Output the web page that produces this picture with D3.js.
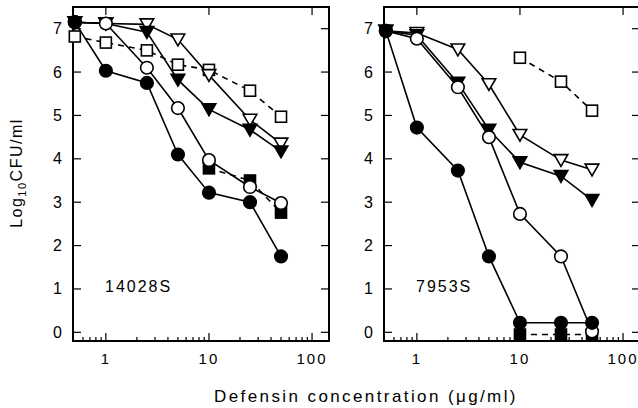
<!DOCTYPE html>
<html>
<head>
<meta charset="utf-8">
<script src="https://cdn.jsdelivr.net/npm/d3@7"></script>
<style>
body{margin:0;background:#fff}
svg{font-family:"Liberation Sans",Arial,sans-serif}
</style>
</head>
<body>
<svg id="chart" width="638" height="408"></svg>
<script>
// concentrations (ug/ml)
let conc=[0.5,1,2.5,5,10,25,50]
let concHigh=[10,25,50]
let yTicks=[0,1,2,3,4,5,6,7]
let xTicks=[1,10,100]
let xMinor=[0.6,0.7,0.8,0.9,2,3,4,5,6,7,8,9,20,30,40,50,60,70,80,90]

// strain 14028S
let a_fc=[7.15,6.03,5.75,4.1,3.22,3.0,1.75]
let a_oc=[7.15,7.12,6.1,5.17,3.97,3.35,2.98]
let a_ot=[7.15,7.12,7.1,6.75,5.93,4.9,4.35]
let a_ft=[7.15,7.12,6.92,5.82,5.14,4.67,4.17]
let a_os=[6.82,6.68,6.5,6.17,6.05,5.57,4.97]
let a_fs=[3.78,3.5,2.76]

// strain 7953S
let b_fc=[6.95,4.72,3.73,1.75,0.22,0.22,0.22]
let b_oc=[6.95,6.77,5.65,4.5,2.73,1.75,0.02]
let b_ft=[6.95,6.85,5.75,4.67,3.92,3.6,3.05]
let b_ot=[6.95,6.9,6.52,5.72,4.55,3.97,3.75]
let b_os=[6.33,5.78,5.11]
let b_fs=[-0.05,-0.05,-0.05]

let svg=d3.select("#chart")
let plotTop=7,plotBottom=341,pw=256

let y=d3.scaleLinear().domain([-0.2,7.5]).range([plotBottom,plotTop])

function marker(g,type,cx,cy){
let filled=type[0]=="f"
let shape=type[1]
let el
if(shape=="c"){
el=g.append("circle").attr("cx",cx).attr("cy",cy).attr("r",6.3)
}else if(shape=="s"){
el=g.append("rect").attr("x",cx-5.5).attr("y",cy-5.5).attr("width",11).attr("height",11)
}else{
el=g.append("path").attr("d",`M${cx-6.8},${cy-5.5}L${cx+6.8},${cy-5.5}L${cx},${cy+6.3}Z`)
}
el.attr("fill",filled?"#000":"#fff").attr("stroke","#000").attr("stroke-width",1.6)
}

function drawPanel(x0,label,series){
let x=d3.scaleLog().domain([0.48,146]).range([x0,x0+pw])
let g=svg.append("g")

// minor & major ticks
xMinor.forEach(t=>{
g.append("line").attr("x1",x(t)).attr("x2",x(t)).attr("y1",plotBottom).attr("y2",plotBottom-4)
.attr("stroke","#000").attr("stroke-width",1.2)
})
xTicks.forEach(t=>{
g.append("line").attr("x1",x(t)).attr("x2",x(t)).attr("y1",plotBottom).attr("y2",plotBottom-8)
.attr("stroke","#000").attr("stroke-width",1.2)
g.append("line").attr("x1",x(t)).attr("x2",x(t)).attr("y1",plotTop).attr("y2",plotTop+8)
.attr("stroke","#000").attr("stroke-width",1.2)
g.append("text").attr("x",x(t)).attr("y",364).attr("text-anchor","middle")
.attr("font-size",15).attr("letter-spacing",2).text(t)
})
yTicks.forEach(t=>{
g.append("line").attr("x1",x0).attr("x2",x0+8).attr("y1",y(t)).attr("y2",y(t))
.attr("stroke","#000").attr("stroke-width",1.2)
g.append("line").attr("x1",x0+pw).attr("x2",x0+pw-8).attr("y1",y(t)).attr("y2",y(t))
.attr("stroke","#000").attr("stroke-width",1.2)
g.append("text").attr("x",x0-11).attr("y",y(t)+5.5).attr("text-anchor","end")
.attr("font-size",16).text(t)
})
g.append("rect").attr("x",x0).attr("y",plotTop).attr("width",pw).attr("height",plotBottom-plotTop)
.attr("fill","none").attr("stroke","#000").attr("stroke-width",2)

g.append("text").attr("x",x0+32).attr("y",292).attr("font-size",16)
.attr("letter-spacing",2).text(label)

let line=d3.line().x(d=>x(d[0])).y(d=>y(d[1]))
series.forEach(s=>{
let pts=s.xs.map((v,i)=>[v,s.vals[i]])
g.append("path").attr("d",line(pts)).attr("fill","none").attr("stroke","#000")
.attr("stroke-width",1.6).attr("stroke-dasharray",s.dash?"6,5":null)
})
series.forEach(s=>{
s.xs.forEach((v,i)=>marker(g,s.type,x(v),y(s.vals[i])))
})
}

drawPanel(73,"14028S",[
{type:"os",xs:conc,vals:a_os,dash:true},
{type:"fs",xs:concHigh,vals:a_fs,dash:true},
{type:"ot",xs:conc,vals:a_ot},
{type:"ft",xs:conc,vals:a_ft},
{type:"oc",xs:conc,vals:a_oc},
{type:"fc",xs:conc,vals:a_fc}
])

drawPanel(384,"7953S",[
{type:"os",xs:concHigh,vals:b_os,dash:true},
{type:"fs",xs:concHigh,vals:b_fs,dash:true},
{type:"ot",xs:conc,vals:b_ot},
{type:"ft",xs:conc,vals:b_ft},
{type:"oc",xs:conc,vals:b_oc},
{type:"fc",xs:conc,vals:b_fc}
])

svg.append("text").attr("x",366).attr("y",402).attr("text-anchor","middle")
.attr("font-size",17).attr("letter-spacing",2.4)
.text("Defensin concentration (\u03bcg/ml)")

let yl=svg.append("text").attr("transform","translate(22,173) rotate(-90)")
.attr("text-anchor","middle").attr("font-size",16).attr("letter-spacing",1.5)
yl.append("tspan").text("Log")
yl.append("tspan").attr("font-size",11).attr("dy",4).text("10")
yl.append("tspan").attr("dy",-4).text("CFU/ml")
</script>
</body>
</html>
